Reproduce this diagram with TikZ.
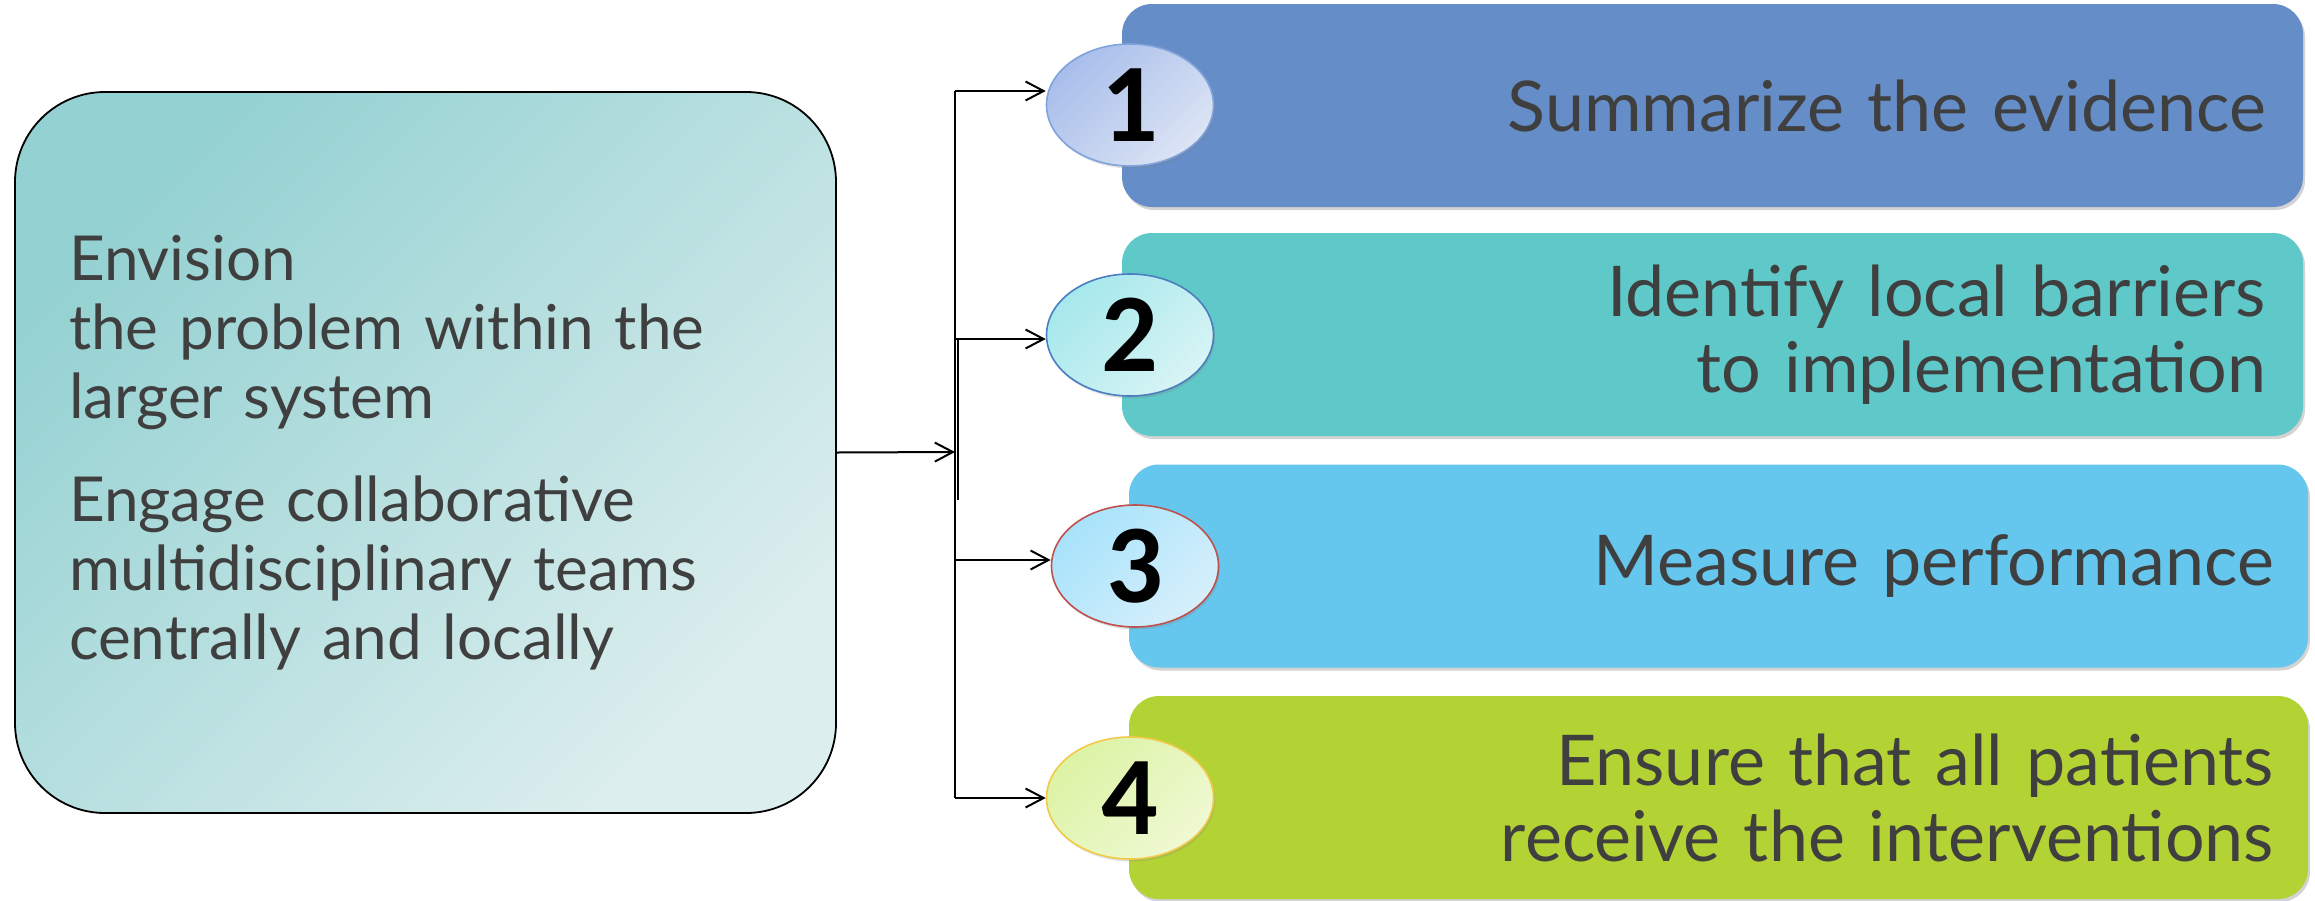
\documentclass[tikz,border=0pt]{standalone}
\usepackage{fontspec}
\setmainfont{Lato}
\newfontfamily\numfont{Carlito}
\usetikzlibrary{arrows.meta,shapes.geometric,shadows}

\definecolor{txt}{HTML}{3F3F3F}
\definecolor{tealA}{HTML}{94D1D2}
\definecolor{tealB}{HTML}{DDEEEE}
\definecolor{boxA}{HTML}{658DC8}
\definecolor{boxB}{HTML}{5FC8C8}
\definecolor{boxC}{HTML}{65C7EE}
\definecolor{boxD}{HTML}{B3D334}
\definecolor{ovA1}{HTML}{A8BEEA}
\definecolor{ovA2}{HTML}{DCE4F5}
\definecolor{ovAe}{HTML}{7FA3DA}
\definecolor{ovB1}{HTML}{A6E8EC}
\definecolor{ovB2}{HTML}{D8F4F5}
\definecolor{ovBe}{HTML}{4A7EC0}
\definecolor{ovC1}{HTML}{A8E3FB}
\definecolor{ovC2}{HTML}{D6EFFB}
\definecolor{ovCe}{HTML}{C0504D}
\definecolor{ovD1}{HTML}{DCF3A4}
\definecolor{ovD2}{HTML}{EFF9D3}
\definecolor{ovDe}{HTML}{F2C94A}

\begin{document}
\begin{tikzpicture}[x=1pt,y=-1pt,
  srcbox/.style={draw=black, line width=1.8pt, rounded corners=90pt,
    minimum width=821pt, minimum height=721pt, text width=713pt,
    inner xsep=54pt, align=left, left color=tealA, right color=tealB,
    shading angle=45, text=txt, font=\fontsize{62}{69}\selectfont},
  taskbox/.style={rounded corners=30pt, minimum height=203pt,
    align=right, text=txt, font=\fontsize{70}{76}\selectfont,
    drop shadow={shadow xshift=2pt, shadow yshift=-3pt, opacity=0.35, fill=gray}},
  numoval/.style={ellipse, minimum width=167pt, minimum height=122pt,
    inner sep=0pt, line width=1.6pt,
    font=\numfont\bfseries\fontsize{112}{112}\selectfont,
    drop shadow={shadow xshift=1.5pt, shadow yshift=-2.5pt, opacity=0.25, fill=gray}},
  ovshade/.style 2 args={left color=#1, right color=#2, shading angle=45},
  arr/.style={line width=2pt, -{Straight Barb[length=18pt,width=19pt,line width=2pt]}},
  trunk/.style={line width=2pt}]

\useasboundingbox (0,0) rectangle (2315,900);

% left block
\node[srcbox] (src) at (425.5,452.5)
  {Envision\\ the problem within the\\ larger system\\[34pt]
   Engage collaborative\\ multidisciplinary teams\\ centrally and locally};

% four step bars
\node[taskbox, fill=boxA, text width=1107pt, inner xsep=37pt] (b1) at (1712.5,105.5)
  {Summarize the evidence};
\node[taskbox, fill=boxB, text width=1107pt, inner xsep=37pt] (b2) at (1712.5,334.5)
  {Identify local barriers\\ to implementation};
\node[taskbox, fill=boxC, text width=1111pt, inner xsep=34pt] (b3) at (1718.5,566)
  {Measure performance};
\node[taskbox, fill=boxD, text width=1111pt, inner xsep=34pt] (b4) at (1718.5,797.5)
  {Ensure that all patients\\ receive the interventions};

% numbered ovals
\node[numoval, draw=ovAe, ovshade={ovA1}{ovA2}] (e1) at (1130,105) {1};
\node[numoval, draw=ovBe, ovshade={ovB1}{ovB2}] (e2) at (1130,335) {2};
\node[numoval, draw=ovCe, ovshade={ovC1}{ovC2}] (e3) at (1135,566) {3};
\node[numoval, draw=ovDe, ovshade={ovD1}{ovD2}] (e4) at (1130,798) {4};

% distribution trunk
\coordinate (t1) at (955,91);
\coordinate (t2) at (955,339);
\coordinate (hub) at (955,452);
\coordinate (t3) at (955,560);
\coordinate (t4) at (955,798);
\coordinate (tx) at (955,500);

\draw[trunk] (t1) -- (t4);
\draw[trunk] ([xshift=3pt]t2) -- ([xshift=3pt]tx);
\draw[arr] (src.east) -- (hub);
\draw[arr] (t1) -- (t1 -| e1.west);
\draw[arr] (t2) -- (t2 -| e2.west);
\draw[arr] (t3) -- (t3 -| e3.west);
\draw[arr] (t4) -- (t4 -| e4.west);
\end{tikzpicture}
\end{document}
